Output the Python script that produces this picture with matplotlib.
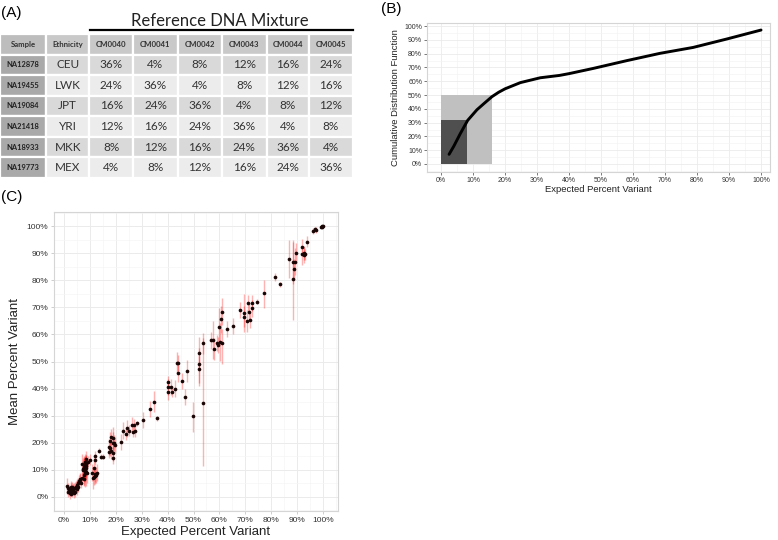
import numpy as np
import matplotlib
matplotlib.use("Agg")
import matplotlib.pyplot as plt
from matplotlib.ticker import MultipleLocator, FuncFormatter

plt.rcParams['font.family'] = ['Liberation Sans', 'DejaVu Sans']

# ---- (A) mixture table
table_cols = ["Sample", "Ethnicity", "CM0040", "CM0041", "CM0042", "CM0043", "CM0044", "CM0045"]
samples = ["NA12878", "NA19455", "NA19084", "NA21418", "NA18933", "NA19773"]
ethnicity = ["CEU", "LWK", "JPT", "YRI", "MKK", "MEX"]
mix_pct = [
    [36, 4, 8, 12, 16, 24],
    [24, 36, 4, 8, 12, 16],
    [16, 24, 36, 4, 8, 12],
    [12, 16, 24, 36, 4, 8],
    [8, 12, 16, 24, 36, 4],
    [4, 8, 12, 16, 24, 36],
]

# ---- (B) cumulative distribution of expected percent variant
cdf_x = [2.5, 4, 6, 8.3, 11.2, 13.5, 15.9, 18, 20, 24.8, 31, 37, 40, 47.6, 58, 68.4, 78.8, 89.3, 100]
cdf_y = [7, 13, 22, 31.6, 39.3, 44, 48.8, 52, 54.5, 59, 62.5, 64.2, 65.5, 69.3, 74.9, 80.2, 84.5, 90.6, 97.1]
light_box = (16, 50)   # x extent, y extent
dark_box = (8.1, 32)

# ---- (C) expected vs mean percent variant (with error bar low/high)
expected = [99.5, 99.8, 100.0, 99.2, 96.9, 96.3, 97.2, 93.7, 92.0, 92.5, 92.8, 91.8, 93.0,
            89.4, 89.2, 88.8, 88.3, 88.4, 87.0, 81.5, 83.4, 77.3, 74.6, 72.6, 70.9, 72.5,
            71.5, 71.8, 70.5, 69.6, 69.6, 68.0, 65.4, 63.0, 61.1, 60.6, 60.0, 60.9, 60.1,
            59.0, 59.6, 57.9, 57.4, 56.6, 53.8, 52.2, 52.2, 52.2, 53.8, 49.9, 43.5, 43.9,
            47.4, 44.1, 45.4, 40.3, 40.3, 41.3, 42.9, 41.8, 40.0, 46.7, 34.7, 33.2, 36.0,
            30.6, 28.1, 26.1, 27.0, 26.5, 27.2, 24.2, 25.0, 22.7, 23.8, 21.9, 17.9, 17.5,
            18.2, 19.0, 18.7, 19.4, 19.7, 18.8, 19.0, 17.9, 18.3, 17.3, 13.6, 14.3, 14.9,
            12.0, 12.0, 10.0, 9.4, 8.5, 10.6, 12.0, 12.6, 11.7, 11.2, 11.5, 7.0, 7.5, 7.8,
            8.0, 8.2, 8.5, 8.8, 7.2, 7.6, 8.3, 8.0, 7.9, 6.8, 6.2, 7.5, 5.8, 5.5, 4.9, 4.5,
            4.0, 3.6, 3.2, 2.8, 2.3, 2.0, 1.7, 1.0, 2.5, 3.0, 4.2, 5.2, 6.5, 3.8, 1.5, 4.8, 2.8,
            7.7, 8.1, 8.4, 7.4, 8.6, 7.9, 6.0, 5.0, 3.4, 2.6, 4.4, 11.8, 12.3]
mean_obs = [99.8, 100.0, 99.9, 99.7, 98.8, 98.2, 98.5, 94.2, 92.4, 90.0, 89.3, 89.7, 89.6,
            90.1, 86.8, 84.0, 86.8, 80.3, 87.7, 81.3, 78.5, 75.2, 72.1, 71.5, 71.5, 69.6,
            68.4, 65.3, 65.0, 67.8, 66.6, 69.0, 63.2, 61.9, 68.4, 65.6, 62.6, 56.9, 57.2,
            56.9, 56.1, 54.5, 57.9, 57.8, 56.7, 53.0, 49.1, 47.1, 34.6, 30.0, 49.6, 49.4,
            46.6, 45.6, 42.9, 42.5, 40.7, 40.7, 40.0, 38.9, 38.7, 37.0, 35.2, 32.4, 29.0,
            28.4, 27.2, 26.6, 26.6, 24.1, 24.3, 25.3, 24.5, 24.5, 23.2, 20.3, 20.8, 18.5,
            17.0, 19.8, 21.7, 20.0, 19.3, 14.3, 16.3, 18.0, 22.0, 16.5, 17.1, 14.9, 14.9,
            15.1, 13.7, 13.7, 13.0, 13.9, 9.0, 8.5, 9.0, 7.5, 7.0, 10.5, 12.0, 11.0, 10.5,
            9.5, 10.0, 11.5, 9.0, 9.8, 8.2, 12.3, 8.8, 11.8, 7.0, 6.3, 6.5, 6.0, 5.0, 4.5, 3.8,
            3.2, 2.6, 3.5, 2.2, 1.4, 2.5, 3.2, 4.1, 3.8, 1.8, 2.0, 3.8, 5.2, 1.5, 1.8, 2.8, 3.0,
            10.8, 11.2, 9.2, 10.2, 10.8, 12.8, 6.8, 4.2, 2.8, 1.2, 3.4, 7.8, 8.0]
err_lo = [0.5, 0.3, 0.3, 0.5, 1, 1, 1, 2, 3, 2.5, 3, 4, 2,
          3.5, 5, 4, 8, 15, 7, 1.5, 1, 5.5, 1, 3, 3, 3,
          3, 3, 4, 7, 4, 3, 3, 3, 5, 5, 7, 8, 7,
          3, 3, 4, 7, 3, 4, 6, 8, 5, 23, 6, 4, 3,
          4, 3, 3, 2, 3, 3, 3, 2, 3, 3, 4, 3, 1,
          3, 1, 3, 2, 2, 2, 3, 2, 3, 2, 3, 3, 3,
          3, 4, 4, 3, 3, 2, 3, 3, 3, 2, 1, 1, 1,
          2, 2, 2, 2, 3, 3, 3, 3, 3, 4, 4, 4, 4, 4,
          4, 4, 4, 4, 4, 4, 3, 5, 4, 2, 2, 2, 2, 2, 2, 2,
          2, 2, 2, 2, 2, 2, 2, 3, 2, 2, 2, 2, 2, 2, 2, 2, 2,
          5, 5, 5, 4, 4, 3, 2, 2, 2, 1, 2, 3, 3]
err_hi = [0.5, 0.3, 0.3, 0.5, 1, 1, 1, 2, 3, 2.5, 3, 3, 2,
          3.5, 5, 4, 8, 14, 7, 1.5, 1, 5, 1, 3, 3, 3,
          3, 3, 4, 7, 4, 3, 3, 3, 5, 5, 7, 5, 7,
          3, 3, 4, 7, 3, 4, 6, 6, 5, 24, 5, 4, 3,
          4, 3, 3, 2, 3, 3, 3, 2, 3, 3, 4, 3, 1,
          3, 1, 3, 2, 2, 2, 3, 2, 3, 2, 3, 3, 3,
          3, 4, 4, 3, 3, 2, 3, 3, 3, 2, 1, 1, 1,
          2, 2, 2, 2, 3, 3, 3, 3, 3, 4, 4, 4, 4, 4,
          4, 4, 4, 4, 4, 4, 3, 5, 3, 2, 2, 2, 2, 2, 2, 2,
          2, 2, 2, 2, 2, 2, 2, 3, 2, 2, 2, 2, 2, 2, 2, 2, 2,
          4, 4, 4, 4, 4, 3, 2, 2, 2, 2, 2, 3, 3]

pct = FuncFormatter(lambda v, p: "%d%%" % round(v))

fig = plt.figure(figsize=(7.78, 5.4), dpi=100)
W, H = 778.0, 540.0

def px_axes(x0, y0, x1, y1):
    # pixel box (top-left origin) -> figure axes
    return fig.add_axes([x0 / W, 1 - y1 / H, (x1 - x0) / W, (y1 - y0) / H])

# ---------------- (A)
axA = px_axes(0, 34, 353, 178)
axA.axis("off")
rows = [[s, e] + ["%d%%" % v for v in r] for s, e, r in zip(samples, ethnicity, mix_pct)]
tab = axA.table(cellText=rows, colLabels=table_cols, cellLoc="center",
                colWidths=[46, 43, 44, 44, 44, 45, 42, 44], bbox=[0, 0, 1, 1])
tab.auto_set_font_size(False)
for (r, c), cell in tab.get_celld().items():
    cell.set_edgecolor("white")
    cell.set_linewidth(1.6)
    txt = cell.get_text()
    txt.set_family(["Lato", "DejaVu Sans"])
    if r == 0:
        cell.set_facecolor("#bdbdbd" if c == 0 else "#c9c9c9")
        txt.set_fontsize(5.6)
        txt.set_fontweight("bold")
        txt.set_color("#333333")
    elif c == 0:
        cell.set_facecolor("#a9a9a9")
        txt.set_fontsize(5.4)
        txt.set_fontweight("bold")
        txt.set_color("#222222")
    else:
        cell.set_facecolor("#d9d9d9" if r % 2 == 1 else "#ececec")
        txt.set_fontsize(8.5)
        txt.set_color("#333333")

fig.text(220 / W, 1 - 21 / H, "Reference DNA Mixture", ha="center", va="center",
         fontsize=12, family=["Lato", "DejaVu Sans"], color="#222222")
fig.add_artist(plt.Line2D([90 / W, 353 / W], [1 - 30 / H, 1 - 30 / H], color="black", lw=1.6))
fig.text(1 / W, 1 - 13 / H, "(A)", ha="left", va="center", fontsize=11)

# ---------------- (B)
axB = px_axes(427, 23, 770, 172)
axB.add_patch(plt.Rectangle((0, 0), light_box[0], light_box[1], color="#c0c0c0", lw=0, zorder=1))
axB.add_patch(plt.Rectangle((0, 0), dark_box[0], dark_box[1], color="#4f4f4f", lw=0, zorder=1))
axB.plot(cdf_x, cdf_y, color="black", lw=2.1, solid_capstyle="round", zorder=3)
axB.set_xlim(-4.4, 102.8)
axB.set_ylim(-5.8, 102.2)
for a in (axB.xaxis, axB.yaxis):
    a.set_major_locator(MultipleLocator(10))
    a.set_minor_locator(MultipleLocator(5))
    a.set_major_formatter(pct)
axB.grid(which="major", color="#ebebeb", lw=0.6)
axB.grid(which="minor", color="#f4f4f4", lw=0.5)
axB.set_axisbelow(True)
axB.tick_params(which="major", labelsize=5, length=2, width=0.5, color="#444444", pad=1.5, labelcolor="#333333")
axB.tick_params(which="minor", length=0)
for s in axB.spines.values():
    s.set_color("#d5d5d5")
    s.set_linewidth(0.8)
axB.set_xlabel("Expected Percent Variant", fontsize=6.8, labelpad=1, color="#222222")
axB.set_ylabel("Cumulative Distribution Function", fontsize=6.8, labelpad=3, color="#222222")
fig.text(381 / W, 1 - 9 / H, "(B)", ha="left", va="center", fontsize=11)

# ---------------- (C)
axC = px_axes(54, 212, 338, 511)
lo = np.array(mean_obs) - np.array(err_lo)
hi = np.array(mean_obs) + np.array(err_hi)
axC.vlines(expected, lo, hi, color="red", alpha=0.3, lw=1.0, zorder=2)
axC.scatter(expected, mean_obs, s=7, color="#1a0505", lw=0, zorder=3)
axC.set_xlim(-3.9, 105.8)
axC.set_ylim(-5.2, 105.2)
for a in (axC.xaxis, axC.yaxis):
    a.set_major_locator(MultipleLocator(10))
    a.set_minor_locator(MultipleLocator(5))
    a.set_major_formatter(pct)
axC.grid(which="major", color="#ebebeb", lw=0.7)
axC.grid(which="minor", color="#f5f5f5", lw=0.5)
axC.set_axisbelow(True)
axC.tick_params(which="major", labelsize=6, length=2, width=0.5, color="#bbbbbb", pad=2, labelcolor="#333333")
axC.tick_params(which="minor", length=0)
for s in axC.spines.values():
    s.set_color("#d5d5d5")
    s.set_linewidth(0.8)
axC.set_xlabel("Expected Percent Variant", fontsize=9.5, labelpad=2, color="#222222")
axC.set_ylabel("Mean Percent Variant", fontsize=9.5, labelpad=4, color="#222222")
fig.text(1 / W, 1 - 197 / H, "(C)", ha="left", va="center", fontsize=11)

fig.savefig("out.png", dpi=100)
